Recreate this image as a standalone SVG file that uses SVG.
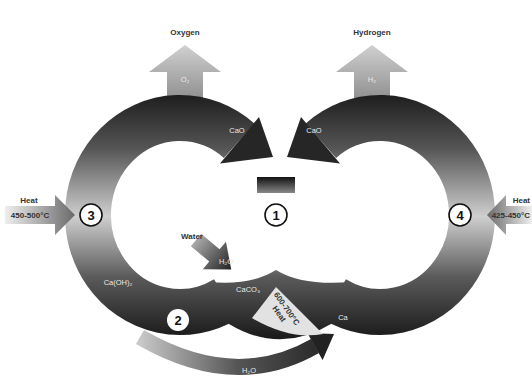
<svg xmlns="http://www.w3.org/2000/svg" width="532" height="391" viewBox="0 0 532 391">
<defs>
<style>
text{font-family:"Liberation Sans","DejaVu Sans",sans-serif;font-weight:bold;text-anchor:middle}
.lbl{font-size:8px;fill:#333}
.in{font-size:7.5px;fill:#e8e8e8;font-weight:normal}
.num{font-size:13px;fill:#111}
.ringc{fill:#fff;stroke:#111;stroke-width:1.6}
.band{fill:none;stroke-width:46;stroke-linecap:butt}
</style>
<linearGradient id="ringG" gradientUnits="userSpaceOnUse" x1="0" y1="95" x2="0" y2="338">
<stop offset="0" stop-color="#1e1e1e"/>
<stop offset="0.22" stop-color="#555"/>
<stop offset="0.5" stop-color="#cfcfcf"/>
<stop offset="0.75" stop-color="#5a5a5a"/>
<stop offset="1" stop-color="#1a1a1a"/>
</linearGradient>
<linearGradient id="upG" x1="0" y1="0" x2="0" y2="1">
<stop offset="0" stop-color="#d0d0d0"/>
<stop offset="1" stop-color="#8a8a8a"/>
</linearGradient>
<linearGradient id="heatL" x1="0" y1="0" x2="1" y2="0">
<stop offset="0" stop-color="#eee"/>
<stop offset="1" stop-color="#6a6a6a"/>
</linearGradient>
<linearGradient id="heatR" x1="1" y1="0" x2="0" y2="0">
<stop offset="0" stop-color="#eee"/>
<stop offset="1" stop-color="#6a6a6a"/>
</linearGradient>
<linearGradient id="botG" gradientUnits="userSpaceOnUse" x1="140" y1="0" x2="335" y2="0">
<stop offset="0" stop-color="#c8c8c8"/>
<stop offset="0.5" stop-color="#555"/>
<stop offset="1" stop-color="#222"/>
</linearGradient>
<linearGradient id="waterG" x1="0" y1="0" x2="1" y2="0">
<stop offset="0" stop-color="#aaa"/>
<stop offset="1" stop-color="#222"/>
</linearGradient>
<linearGradient id="barG" x1="0" y1="0" x2="0" y2="1">
<stop offset="0" stop-color="#111"/>
<stop offset="1" stop-color="#888"/>
</linearGradient>
</defs>

<g id="oxygen">
<text class="lbl" x="185" y="35">Oxygen</text>
<polygon points="185,45 221,72 203,72 203,104 167,104 167,72 149,72" fill="url(#upG)"/>
<text class="in" x="185" y="82">O₂</text>
</g>
<g id="hydrogen">
<text class="lbl" x="372" y="35">Hydrogen</text>
<polygon points="372,45 408,72 390,72 390,104 354,104 354,72 336,72" fill="url(#upG)"/>
<text class="in" x="372" y="82">H₂</text>
</g>

<g id="connectors">
<path class="band" stroke="url(#ringG)" d="M 239.1 140.7 A 92 97 0 1 0 226 299"/>
<path class="band" stroke="url(#ringG)" d="M 320.9 140.7 A 92 97 0 1 1 334 299"/>
<path fill="url(#ringG)" d="M 209.2 282.1 Q 250 286 276 270 Q 302 286 350.8 282.1 L 331.4 323.7 Q 280 355 228.6 323.7 Z"/>
<polygon points="220,163.6 259,117 273,157" fill="#262626"/>
<polygon points="340,163.6 301,117 287,157" fill="#262626"/>
<path d="M 140 337 Q 235 392 315 346" fill="none" stroke="url(#botG)" stroke-width="16"/>
<polygon points="322.6,360 307.4,333 334,334" fill="#222"/>
<polygon points="5,206 55,206 55,195 75,215 55,235 55,224 5,224" fill="url(#heatL)"/>
<polygon points="532,206 506,206 506,195 487,215 506,235 506,224 532,224" fill="url(#heatR)"/>
<polygon points="0,-8 24,-8 24,-18 46,0 24,18 24,8 0,8" fill="url(#waterG)" transform="translate(196 240) rotate(40)"/>
</g>

<g id="heat-shape">
<path d="M 276 287 L 323 334 Q 290 340 252 318 Z" fill="#e2e2e2"/>
<text class="lbl" font-size="7" transform="translate(282 312) rotate(55)"><tspan x="0" y="-3">600-700°C</tspan><tspan x="0" y="6">Heat</tspan></text>
</g>

<g id="labels">
<text class="in" x="237" y="133">CaO</text>
<text class="in" x="314" y="133">CaO</text>
<text class="in" x="118" y="285">Ca(OH)₂</text>
<text class="in" x="248" y="292">CaCO₃</text>
<text class="in" x="343" y="320">Ca</text>
<text class="in" x="249" y="373">H₂O</text>
<text class="in" x="226" y="264" font-size="7">H₂O</text>
<text class="lbl" x="192" y="239" font-size="7.5">Water</text>
</g>

<g id="heat-left">
<text class="lbl" x="29" y="203" font-size="7.5">Heat</text>
<text class="lbl" x="30" y="218" font-size="7" fill="#222">450-500°C</text>
</g>
<g id="heat-right">
<text class="lbl" x="530" y="203" font-size="7.5" style="text-anchor:end">Heat</text>
<text class="lbl" x="530" y="218" font-size="7" fill="#222" style="text-anchor:end">425-450°C</text>
</g>

<g id="n1"><rect x="257" y="177" width="38" height="16" fill="url(#barG)"/><circle class="ringc" cx="276" cy="215" r="11"/><text class="num" x="276" y="220">1</text></g>
<g id="n2"><circle cx="178" cy="320" r="11" fill="#fff"/><text class="num" x="178" y="325">2</text></g>
<g id="n3"><circle class="ringc" cx="91" cy="215" r="11"/><text class="num" x="91" y="220">3</text></g>
<g id="n4"><circle class="ringc" cx="460" cy="215" r="11"/><text class="num" x="460" y="220">4</text></g>
</svg>
